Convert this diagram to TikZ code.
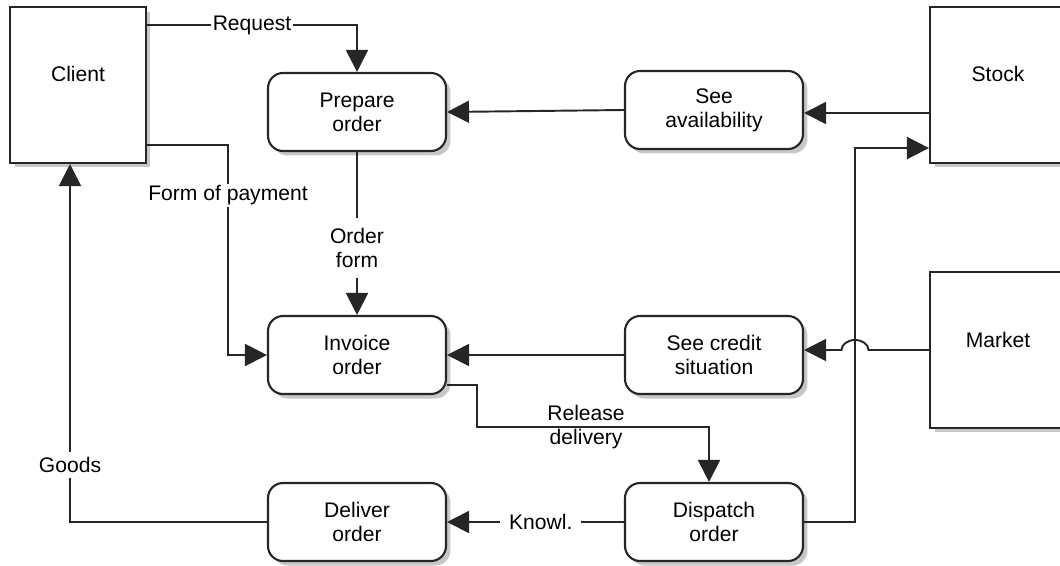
\documentclass[tikz,border=0pt]{standalone}
\usepackage{fontspec}
\setmainfont{Liberation Sans}
\usetikzlibrary{
  arrows.meta,
  shadows,
}

\begin{document}
\begin{tikzpicture}[
  x=0.02cm, y=-0.02cm,
  font=\fontsize{12}{13.5}\selectfont,
  every node/.style={align=center},
  boxshadow/.style={drop shadow={shadow xshift=0.09cm, shadow yshift=-0.09cm,
                    fill=black!22, opacity=1}},
  entity/.style={draw=black!85, line width=1.2pt, fill=white, boxshadow,
                 minimum width=2.72cm, minimum height=3.12cm},
  process/.style={draw=black!85, line width=1.2pt, fill=white, boxshadow,
                  rounded corners=0.3cm, minimum width=3.56cm, minimum height=1.56cm},
  flow/.style={draw=black!85, line width=1.1pt,
               -{Triangle[length=0.44cm, width=0.44cm]}},
  lbl/.style={fill=white, inner sep=1pt},
]
\useasboundingbox (0,0) rectangle (1060,565);

% outer entities
\node[entity, label={[yshift=0.22cm]center:Client}] (client) at (78,85) {};
\node[entity, label={[yshift=0.22cm]center:Stock}]  (stock)  at (998,85) {};
\node[entity, label={[yshift=0.2cm]center:Market}]  (market) at (998,350) {};

% processes
\foreach \n/\x/\y/\t in
  {prepare/357/112/{Prepare\\order}, avail/714/110/{See\\availability},
   invoice/357/355/{Invoice\\order}, credit/714/355/{See credit\\situation},
   deliver/357/522/{Deliver\\order}, dispatch/714/522/{Dispatch\\order}}{
  \node[process] (\n) at (\x,\y) {\t};
}

\coordinate (payx) at (228,0);
\coordinate (riser) at (855,0);
\coordinate (relmid) at (477,427);
\coordinate (stockin) at ([yshift=0.32cm]stock.south west);

% flows
\draw[flow] ([yshift=-0.38cm]client.north east) -| node[lbl, pos=0.25]{Request}
  (prepare.north);
\draw[flow] ([yshift=0.38cm]client.south east) -| node[lbl, pos=0.62]{Form of payment}
  (payx |- invoice.west) -- (invoice.west);
\draw[flow] (prepare) -- node[lbl, pos=0.59, inner ysep=6pt]{Order\\form} (invoice);
\draw[flow] ([yshift=-0.06cm]stock.west |- avail.east) -- ([yshift=-0.06cm]avail.east);
\draw[flow] (avail.west) -- (prepare.east);
\draw[flow] (credit.west) -- (invoice.east);
\draw[flow] (dispatch.east) -| (riser |- stockin) -- (stockin);
\draw[flow] (market.west) -- ([xshift=0.27cm]riser |- market.west)
  arc[start angle=0, end angle=180, x radius=0.27cm, y radius=0.2cm]
  -- (credit.east |- market.west);
\draw[flow] ([yshift=-0.6cm]invoice.east) -| (relmid)
  -| node[pos=0.235]{Release\\delivery} ([xshift=-0.1cm]dispatch.north);
\draw[flow] (dispatch.west) -- node[lbl, pos=0.47, inner xsep=5pt]{Knowl.} (deliver.east);
\draw[flow] (deliver.west) -| node[lbl, pos=0.58, inner sep=3pt]{Goods}
  ([xshift=-0.16cm]client.south);

\end{tikzpicture}
\end{document}
